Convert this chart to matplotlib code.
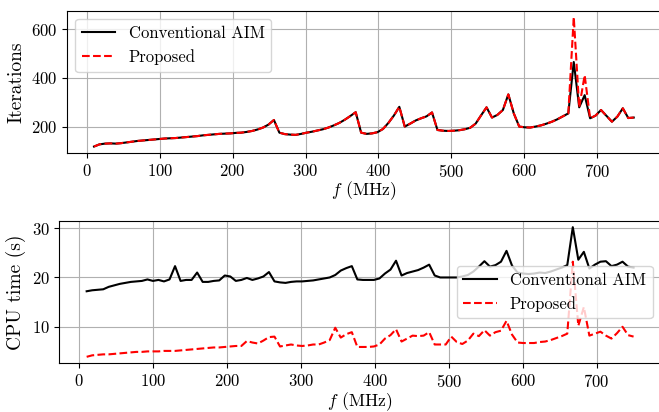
import numpy as np
import matplotlib
matplotlib.use("Agg")
import matplotlib.pyplot as plt
from matplotlib.ticker import MultipleLocator

plt.rcParams["font.family"] = ["cmr10", "DejaVu Serif"]
plt.rcParams["mathtext.fontset"] = "cm"
plt.rcParams["axes.formatter.use_mathtext"] = True
plt.rcParams["font.size"] = 12

# Frequency sweep (MHz)
freq = np.linspace(10, 750, 100)

# Iteration counts
iters_conv = [
    118, 127, 130, 131, 130, 132, 135, 138, 141, 143,
    145, 147, 149, 151, 152, 153, 155, 157, 159, 161,
    164, 166, 168, 170, 171, 172, 174, 175, 178, 182,
    188, 196, 208, 227, 175, 169, 167, 166, 170, 175,
    179, 184, 189, 196, 205, 215, 228, 243, 259, 175,
    170, 172, 177, 190, 215, 245, 281, 200, 212, 225,
    234, 242, 258, 186, 183, 182, 183, 185, 189, 195,
    212, 246, 279, 237, 248, 268, 332, 254, 200, 197,
    196, 200, 205, 212, 220, 230, 242, 254, 465, 279,
    329, 234, 245, 268, 244, 220, 241, 275, 235, 237,
]
iters_prop = list(iters_conv)
iters_prop[88] = 649
iters_prop[90] = 411

# CPU time (s)
cpu_conv = [
    17.2, 17.4, 17.5, 17.6, 18.1, 18.4, 18.7, 18.9, 19.1, 19.2,
    19.3, 19.6, 19.3, 19.5, 19.2, 19.6, 22.3, 19.3, 19.5, 19.5,
    21.0, 19.1, 19.1, 19.3, 19.4, 20.4, 20.2, 19.3, 19.5, 19.9,
    19.5, 19.8, 20.2, 21.1, 19.2, 19.0, 18.9, 19.1, 19.2, 19.2,
    19.3, 19.4, 19.6, 19.8, 20.0, 20.5, 21.4, 21.9, 22.3, 19.6,
    19.5, 19.5, 19.5, 19.8, 20.8, 21.6, 23.4, 20.4, 20.9, 21.2,
    21.5, 22.0, 22.6, 20.4, 20.0, 20.0, 20.0, 20.0, 20.2, 20.5,
    21.2, 22.2, 23.3, 22.2, 22.5, 23.2, 25.4, 22.4, 21.0, 20.8,
    20.7, 20.8, 21.0, 20.9, 21.2, 21.6, 22.0, 22.5, 30.2, 23.6,
    25.2, 21.8, 22.6, 23.2, 23.3, 22.3, 22.6, 23.2, 22.2, 22.0,
]
cpu_prop = [
    3.9, 4.2, 4.3, 4.4, 4.4, 4.5, 4.6, 4.7, 4.8, 4.9,
    4.9, 5.0, 5.0, 5.0, 5.1, 5.1, 5.1, 5.2, 5.3, 5.4,
    5.5, 5.6, 5.7, 5.8, 5.8, 5.9, 6.0, 6.1, 6.1, 7.1,
    6.8, 6.6, 7.2, 7.9, 8.0, 6.0, 6.2, 6.4, 6.2, 6.1,
    6.2, 6.4, 6.4, 6.8, 7.3, 9.8, 7.8, 8.5, 8.9, 5.9,
    5.9, 5.9, 6.0, 6.4, 7.6, 8.3, 9.5, 7.0, 7.6, 8.2,
    8.1, 8.2, 8.9, 6.4, 6.4, 6.4, 8.0, 6.9, 6.5, 7.2,
    8.6, 8.1, 9.3, 8.2, 8.9, 9.2, 11.2, 8.4, 6.8, 6.7,
    6.7, 6.7, 6.9, 7.0, 7.3, 7.7, 8.1, 8.6, 23.2, 10.2,
    14.0, 8.2, 8.6, 9.0, 8.2, 7.6, 8.7, 10.0, 8.3, 8.0,
]

labels = ["Conventional AIM", "Proposed"]
xlabel = r"$f$ (MHz)"

fig = plt.figure(figsize=(6.59, 4.12), dpi=100)
ax1 = fig.add_axes([0.1017, 0.6286, 0.9009, 0.3454])
ax2 = fig.add_axes([0.0900, 0.1182, 0.9129, 0.3461])

for ax, yc, yp, ylab, ystep, loc in [
    (ax1, iters_conv, iters_prop, "Iterations", 200, "upper left"),
    (ax2, cpu_conv, cpu_prop, "CPU time (s)", 10, "center right"),
]:
    ax.plot(freq, yc, color="black", lw=1.5, label=labels[0])
    ax.plot(freq, yp, color="red", lw=1.5, ls="--", label=labels[1])
    ax.grid(True)
    ax.set_axisbelow(True)
    ax.xaxis.set_major_locator(MultipleLocator(100))
    ax.yaxis.set_major_locator(MultipleLocator(ystep))
    ax.set_xlabel(xlabel, labelpad=0, fontsize=12.7)
    ax.set_ylabel(ylab, fontsize=14)
    ax.legend(loc=loc)

fig.savefig("out.png", dpi=100)
